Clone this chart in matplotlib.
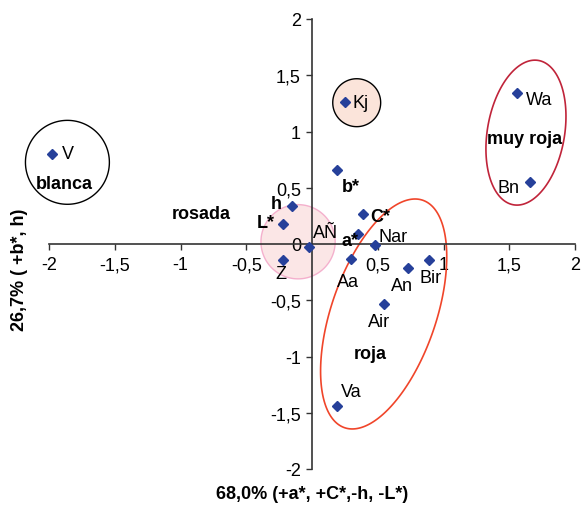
import numpy as np
import matplotlib
matplotlib.use('Agg')
import matplotlib.pyplot as plt

plt.rcParams['font.family'] = ['Liberation Sans', 'DejaVu Sans']

# scores on the two principal components
names = ['V', 'Kj', 'Wa', 'Bn', 'b*', 'C*', 'a*', 'Nar', 'AÑ', 'h', 'L*', 'Z',
         'Aa', 'An', 'Bir', 'Air', 'Va']
pc1 = [-1.98, 0.25, 1.56, 1.66, 0.19, 0.39, 0.35, 0.48, -0.02, -0.15, -0.22, -0.22,
       0.30, 0.73, 0.89, 0.55, 0.19]
pc2 = [0.80, 1.26, 1.34, 0.55, 0.66, 0.27, 0.09, -0.01, -0.03, 0.34, 0.18, -0.14,
       -0.13, -0.21, -0.14, -0.53, -1.44]
bold_names = ['b*', 'C*', 'a*', 'h', 'L*']

x_ticks = [-2, -1.5, -1, -0.5, 0.5, 1, 1.5, 2]
x_labels = ['-2', '-1,5', '-1', '-0,5', '0,5', '1', '1,5', '2']
y_ticks = [-2, -1.5, -1, -0.5, 0, 0.5, 1, 1.5, 2]
y_labels = ['-2', '-1,5', '-1', '-0,5', '0', '0,5', '1', '1,5', '2']

x_title = '68,0% (+a*, +C*,-h, -L*)'
y_title = '26,7% ( +b*, h)'

# label offsets in pixels (dx, dy, ha)
offsets = {
    'V': (10, 0, 'left'), 'Kj': (8, 0, 'left'), 'Wa': (9, -6, 'left'),
    'Bn': (-11, -5, 'right'), 'b*': (5, -17, 'left'), 'C*': (7, -3, 'left'),
    'a*': (-8, -7, 'center'), 'Nar': (3, 9, 'left'), 'AÑ': (4, 15, 'left'),
    'h': (-11, 2, 'right'), 'L*': (-8, 1, 'right'), 'Z': (-2, -14, 'center'),
    'Aa': (-3, -23, 'center'), 'An': (-6, -18, 'center'), 'Bir': (2, -18, 'center'),
    'Air': (-5, -18, 'center'), 'Va': (14, 14, 'center'),
}

FS = 13
W, H, DPI = 583, 506, 100
fig = plt.figure(figsize=(W / DPI, H / DPI), dpi=DPI)
ax = fig.add_axes([49 / W, 36 / H, 526 / W, 450 / H])
ax.set_xlim(-2, 2)
ax.set_ylim(-2, 2)

# px per unit ratio, to draw true circles / rotated ellipses
k = (526 / 4) / (450 / 4)


def ellipse(cx, cy, a, b, ang, **kw):
    t = np.linspace(0, 2 * np.pi, 300)
    th = np.deg2rad(ang)
    u = a * np.cos(t) * np.cos(th) - b * np.sin(t) * np.sin(th)
    v = a * np.cos(t) * np.sin(th) + b * np.sin(t) * np.cos(th)
    xs = cx + u / k
    ys = cy + v
    for p in ax.fill(xs, ys, **kw):
        p.set_clip_on(False)


ellipse(-1.86, 0.726, 0.373, 0.373, 0, facecolor='none', edgecolor='black', lw=1.0, zorder=2)
ellipse(0.34, 1.256, 0.213, 0.213, 0, facecolor='#fbe4da', edgecolor='black', lw=1.0, zorder=2)
ellipse(-0.106, 0.02, 0.33, 0.33, 0, facecolor='#fbe0e0', edgecolor='#f2a0c4', lw=1.0,
        alpha=0.8, zorder=1)
ellipse(1.627, 0.99, 0.651, 0.343, 80.2, facecolor='none', edgecolor='#c0243a', lw=1.2, zorder=2)
ellipse(0.545, -0.622, 1.069, 0.465, 71, facecolor='none', edgecolor='#f0452a', lw=1.2, zorder=2)

ax.plot(pc1, pc2, linestyle='none', marker='D', ms=5, color='#26409a', zorder=4,
        clip_on=False)

for n, x, y in zip(names, pc1, pc2):
    dx, dy, ha = offsets[n]
    ax.annotate(n, (x, y), xytext=(dx * 0.72, dy * 0.72), textcoords='offset points',
                ha=ha, va='center', fontsize=FS,
                fontweight='bold' if n in bold_names else 'normal', zorder=5)

ax.text(-1.88, 0.54, 'blanca', ha='center', va='center', fontsize=FS, fontweight='bold')
ax.text(-0.84, 0.27, 'rosada', ha='center', va='center', fontsize=FS, fontweight='bold')
ax.text(1.615, 0.94, 'muy roja', ha='center', va='center', fontsize=FS, fontweight='bold')
ax.text(0.44, -0.97, 'roja', ha='center', va='center', fontsize=FS, fontweight='bold')

for s in ['top', 'right']:
    ax.spines[s].set_visible(False)
for s in ['left', 'bottom']:
    ax.spines[s].set_position('zero')
    ax.spines[s].set_color('#333333')
    ax.spines[s].set_linewidth(1.2)
    ax.spines[s].set_zorder(3)

ax.set_xticks(x_ticks)
ax.set_xticklabels(x_labels)
ax.set_yticks(y_ticks)
ax.set_yticklabels(y_labels)
ax.tick_params(axis='both', direction='out', length=4, width=1, color='#333333',
               labelsize=FS, pad=4)
ax.tick_params(axis='x', pad=5)

fig.text(312 / W, 1 - 495 / H, x_title, ha='center', va='center', fontsize=FS,
         fontweight='bold')
fig.text(20 / W, 1 - 270 / H, y_title, ha='center', va='center', fontsize=FS,
         fontweight='bold', rotation=90)

fig.savefig('out.png', dpi=DPI)
